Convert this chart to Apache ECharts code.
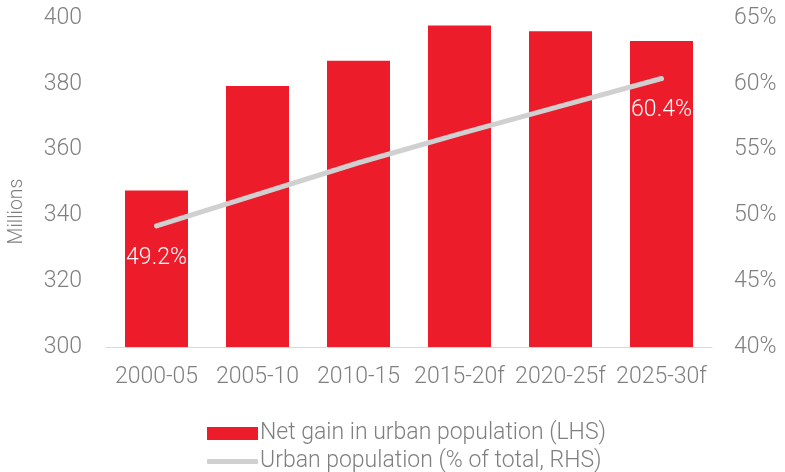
<!DOCTYPE html>
<html>
<head>
<meta charset="utf-8">
<script src="https://cdn.jsdelivr.net/npm/echarts@6/dist/echarts.min.js"></script>
<style>
  html, body { margin: 0; padding: 0; background: #fff; }
  #chart { width: 785px; height: 472px; }
</style>
</head>
<body>
<div id="chart"></div>
<script>
// categories and values
var periods = ['2000-05', '2005-10', '2010-15', '2015-20f', '2020-25f', '2025-30f']
var netGain = [347.6, 379.3, 387.0, 397.7, 396.0, 393.0]
var urbanShare = [49.2, 51.6, 54.0, 56.2, 58.3, 60.4]
var leftTicks = [300, 320, 340, 360, 380, 400]
var rightTicks = [40, 45, 50, 55, 60, 65]

var barName = 'Net gain in urban population (LHS)'
var lineName = 'Urban population (% of total, RHS)'
var grey = '#7f7f7f'
var font = 'Roboto'
var fs = 23

var chart = echarts.init(document.getElementById('chart'))
chart.setOption({
  animation: false,
  textStyle: { fontFamily: font, fontWeight: 300, color: grey },
  grid: { left: 106, right: 73, top: 18, bottom: 125, outerBoundsMode: 'none', containLabel: false },
  legend: [
    {
      left: 202, top: 417, orient: 'vertical',
      itemWidth: 51, itemHeight: 13,
      icon: 'rect',
      textStyle: { fontSize: fs, color: grey, fontWeight: 300, padding: [0, 0, 0, -3] },
      data: [barName]
    },
    {
      left: 202, top: 445, orient: 'vertical',
      itemWidth: 51, itemHeight: 5,
      icon: 'roundRect',
      textStyle: { fontSize: fs, color: grey, fontWeight: 300, padding: [0, 0, 0, -3] },
      data: [lineName]
    }
  ],
  xAxis: {
    type: 'category',
    data: periods,
    axisTick: { show: false },
    axisLine: { lineStyle: { color: '#d9d9d9', width: 1 } },
    axisLabel: { fontSize: fs, color: grey, margin: 19, interval: 0 }
  },
  yAxis: [
    {
      type: 'value',
      min: leftTicks[0], max: leftTicks[leftTicks.length - 1], interval: 20,
      name: 'Millions',
      nameLocation: 'middle',
      nameGap: 79,
      // pushed down a bit, like the original
      nameTextStyle: { fontSize: 19.5, color: grey, fontWeight: 300, padding: [0, 58, 0, 0] },
      splitLine: { show: false },
      axisLine: { show: false },
      axisTick: { show: false },
      axisLabel: { fontSize: fs, color: grey, margin: 24 }
    },
    {
      type: 'value',
      min: rightTicks[0], max: rightTicks[rightTicks.length - 1], interval: 5,
      position: 'right',
      splitLine: { show: false },
      axisLine: { show: false },
      axisTick: { show: false },
      axisLabel: { fontSize: fs, color: grey, margin: 22, formatter: '{value}%' }
    }
  ],
  series: [
    {
      name: barName,
      type: 'bar',
      data: netGain,
      barWidth: 63,
      itemStyle: { color: '#ED1C2A' }
    },
    {
      name: lineName,
      type: 'line',
      yAxisIndex: 1,
      data: urbanShare,
      symbol: 'circle',
      symbolSize: 1,
      lineStyle: { color: '#d0d0d0', width: 5, cap: 'round' },
      itemStyle: { color: '#d0d0d0' },
      label: {
        show: true,
        position: 'bottom',
        distance: 20,
        color: '#fff',
        fontSize: fs,
        fontWeight: 300,
        formatter: function(p) {
          var last = urbanShare.length - 1
          return (p.dataIndex === 0 || p.dataIndex === last) ? p.value.toFixed(1) + '%' : ''
        }
      }
    }
  ]
})
</script>
</body>
</html>
